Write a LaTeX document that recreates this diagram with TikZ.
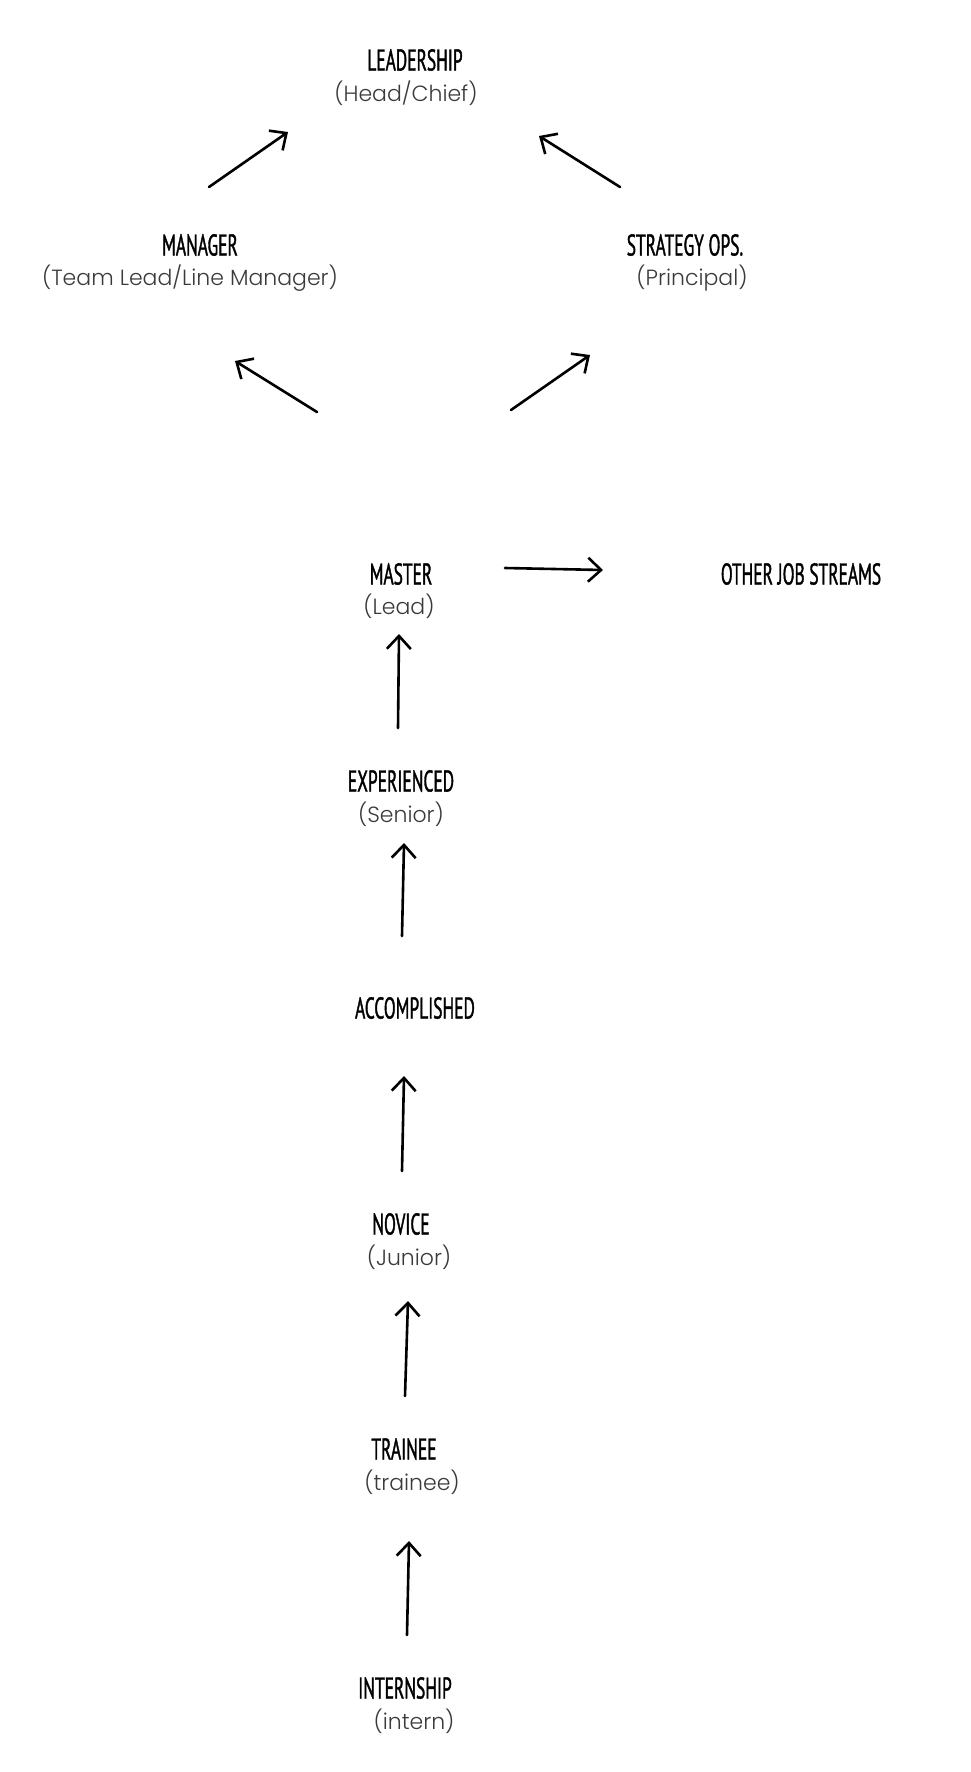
\documentclass[tikz,border=0pt]{standalone}
\usepackage{fontspec}
\usetikzlibrary{arrows.meta}
\newfontfamily\ttlfont[FakeStretch=0.58,FakeBold=1.2]{PT Sans}
\newfontfamily\subfont[UprightFont=* Light]{Poppins}
\definecolor{subgray}{HTML}{3A3A3A}
\tikzset{
  ttl/.style={font=\ttlfont\fontsize{30}{31}\selectfont, text=black, inner sep=0pt, anchor=center},
  sub/.style={font=\subfont\fontsize{22}{24}\selectfont, text=subgray, inner sep=0pt, anchor=center},
  arr/.style={line width=2.6pt, line cap=round, -{Straight Barb[length=13pt,width=24pt,line width=2.6pt]}},
}
\begin{document}
\begin{tikzpicture}[x=1pt,y=-1pt]
\useasboundingbox (0,0) rectangle (970,1772);
% titles
\node[ttl] (lead) at (415,60) {LEADERSHIP};
\node[sub] (leads) at (406,93) {(Head/Chief)};
\node[ttl] (mgr) at (200,245) {MANAGER};
\node[sub] (mgrs) at (190,278) {(Team Lead/Line Manager)};
\node[ttl] (str) at (685,245) {STRATEGY OPS.};
\node[sub] (strs) at (692,278) {(Principal)};
\node[ttl] (mas) at (401,574) {MASTER};
\node[sub] (mass) at (399,606) {(Lead)};
\node[ttl] (oth) at (801,574) {OTHER JOB STREAMS};
\node[ttl] (exp) at (401,781) {EXPERIENCED};
\node[sub] (exps) at (401,814) {(Senior)};
\node[ttl] (acc) at (415,1008) {ACCOMPLISHED};
\node[ttl] (nov) at (401,1224) {NOVICE};
\node[sub] (novs) at (409,1257) {(Junior)};
\node[ttl] (tra) at (404,1449) {TRAINEE};
\node[sub] (tras) at (412,1482) {(trainee)};
\node[ttl] (int) at (405,1688) {INTERNSHIP};
\node[sub] (ints) at (414,1721) {(intern)};
% arrow endpoints
\coordinate (a1s) at (209,187); \coordinate (a1e) at (288,132);
\coordinate (a2s) at (620,187); \coordinate (a2e) at (539,136);
\coordinate (a3s) at (317,412); \coordinate (a3e) at (235,361);
\coordinate (a4s) at (511,410); \coordinate (a4e) at (590,355);
\coordinate (a5s) at (505,568); \coordinate (a5e) at (603,570);
\coordinate (a6s) at (398,728); \coordinate (a6e) at (399,634);
\coordinate (a7s) at (402,936); \coordinate (a7e) at (404,843);
\coordinate (a8s) at (402,1171); \coordinate (a8e) at (404,1076);
\coordinate (a9s) at (405,1396); \coordinate (a9e) at (408,1301);
\coordinate (a10s) at (407,1635); \coordinate (a10e) at (409,1541);
\draw[arr] (a1s) -- (a1e);
\draw[arr] (a2s) -- (a2e);
\draw[arr] (a3s) -- (a3e);
\draw[arr] (a4s) -- (a4e);
\draw[arr] (a5s) -- (a5e);
\draw[arr] (a6s) -- (a6e);
\draw[arr] (a7s) -- (a7e);
\draw[arr] (a8s) -- (a8e);
\draw[arr] (a9s) -- (a9e);
\draw[arr] (a10s) -- (a10e);
\end{tikzpicture}
\end{document}
